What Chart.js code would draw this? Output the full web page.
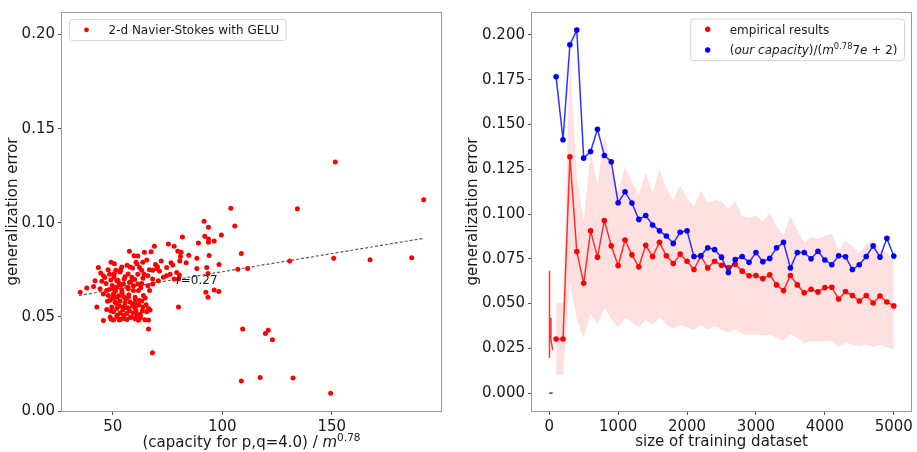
<!DOCTYPE html>
<html>
<head>
<meta charset="utf-8">
<script src="https://cdn.jsdelivr.net/npm/chart.js@4.4.1/dist/chart.umd.min.js"></script>
<style>
  html, body { margin: 0; padding: 0; background: #fff; }
  #wrap  { position: relative; width: 917px; height: 452px; }
  #left  { position: absolute; left: 0;     top: 0; width: 460px; height: 452px; }
  #right { position: absolute; left: 460px; top: 0; width: 457px; height: 452px; }
</style>
</head>
<body>
<div id="wrap">
  <div id="left"><canvas id="scatter"></canvas></div>
  <div id="right"><canvas id="curve"></canvas></div>
</div>
<script>
// ===== Left panel data: (capacity / m^0.78, generalization error) =====
const capX = [
  // dense cluster
  69.0, 75.4, 78.0, 57.6, 64.4, 67.5, 59.7, 61.4, 65.5, 49.2, 50.7, 60.6, 63.7, 72.1, 76.6, 79.7,
  43.4, 54.1, 57.9, 62.2, 63.2, 66.7, 68.2, 70.1, 71.3, 74.6, 76.2, 79.2, 45.7, 48.5, 50.7, 53.3,
  55.6, 58.7, 61.4, 64.3, 66.0, 68.2, 70.8, 73.1, 41.9, 45.0, 46.9, 49.1, 51.8, 53.0, 54.9, 57.6,
  59.4, 61.4, 63.2, 66.0, 68.2, 41.2, 44.2, 47.2, 50.3, 51.8, 54.1, 57.1, 59.4, 61.7, 38.1, 35.1,
  45.7, 48.0, 50.3, 51.8, 54.9, 57.1, 60.2, 64.0, 48.8, 51.0, 53.3, 55.6, 57.9, 60.2, 63.2, 49.5,
  51.8, 54.9, 57.1, 60.2, 63.7, 66.3, 42.7, 47.2, 50.3, 53.3, 56.4, 59.4, 62.5, 65.5, 48.8, 51.8,
  54.9, 57.9, 60.9, 64.7, 66.3, 45.7, 50.3, 53.3, 56.4, 60.2, 61.7, 66.3, 80.0, 80.0,
  50.5, 52.3, 53.8, 55.2, 56.8, 58.3, 49.8, 51.2, 52.7, 54.2, 55.8, 57.3, 58.8, 60.3, 61.8, 50.1,
  51.6, 53.1, 54.6, 56.1, 57.6, 59.1, 60.6, 62.1, 48.4, 47.6, 49.1, 52.0, 55.0, 58.5, 61.3, 63.5,
  64.8, 62.8, 60.0, 57.0, 53.6, 51.4, 46.3, 44.5, 47.9, 56.5, 59.0, 61.0, 63.8, 66.8, 65.2, 62.7,
  53.0, 49.3, 69.5, 70.4, 80.4, 74.5, 77.4, 67.0, 78.0, 68.1,
  // spread-out points
  151.6, 192.0, 134.3, 103.9, 91.7, 105.7, 93.7, 81.8, 99.6, 92.0, 93.7, 96.3, 93.7, 89.1, 81.2,
  108.7, 84.7, 94.0, 80.9, 88.4, 150.9, 167.5, 186.5, 130.8, 80.6, 83.5, 98.5, 92.9, 88.4, 107.1,
  111.6, 93.5, 92.5, 96.3, 98.4, 93.5, 109.3, 121.0, 119.7, 122.9, 108.7, 117.3, 132.3, 149.5,
];
const genErr = [
  0.0875, 0.0887, 0.0875, 0.0849, 0.0844, 0.0846, 0.0825, 0.0823, 0.0802, 0.0791, 0.0783, 0.0791, 0.0791, 0.0797, 0.0788, 0.0849,
  0.0762, 0.0765, 0.0765, 0.0762, 0.0748, 0.0751, 0.0748, 0.0757, 0.0744, 0.0762, 0.0727, 0.0736, 0.0718, 0.0727, 0.0730, 0.0739,
  0.0713, 0.0710, 0.0727, 0.0727, 0.0718, 0.0701, 0.0692, 0.0710, 0.0692, 0.0689, 0.0678, 0.0696, 0.0692, 0.0678, 0.0675, 0.0683,
  0.0666, 0.0675, 0.0678, 0.0666, 0.0675, 0.0661, 0.0649, 0.0640, 0.0649, 0.0657, 0.0643, 0.0649, 0.0640, 0.0640, 0.0654, 0.0631,
  0.0622, 0.0614, 0.0622, 0.0605, 0.0608, 0.0605, 0.0605, 0.0614, 0.0588, 0.0579, 0.0584, 0.0574, 0.0579, 0.0570, 0.0584, 0.0553,
  0.0544, 0.0553, 0.0549, 0.0547, 0.0553, 0.0544, 0.0553, 0.0539, 0.0527, 0.0521, 0.0518, 0.0521, 0.0514, 0.0527, 0.0500, 0.0500,
  0.0492, 0.0497, 0.0500, 0.0485, 0.0483, 0.0481, 0.0484, 0.0488, 0.0486, 0.0490, 0.0482, 0.0436, 0.0553, 0.0701,
  0.0712, 0.0695, 0.0668, 0.0702, 0.0657, 0.0688, 0.0667, 0.0638, 0.0612, 0.0629, 0.0596, 0.0618, 0.0571, 0.0592, 0.0563, 0.0603,
  0.0571, 0.0558, 0.0536, 0.0548, 0.0532, 0.0558, 0.0531, 0.0587, 0.0645, 0.0583, 0.0531, 0.0509, 0.0507, 0.0498, 0.0512, 0.0532,
  0.0601, 0.0655, 0.0699, 0.0728, 0.0751, 0.0748, 0.0709, 0.0733, 0.0751, 0.0775, 0.0760, 0.0783, 0.0705, 0.0640, 0.0565, 0.0497,
  0.0483, 0.0487, 0.0779, 0.0767, 0.0722, 0.0719, 0.0776, 0.0537, 0.0701, 0.0309,
  0.1323, 0.1123, 0.1074, 0.1077, 0.1008, 0.0983, 0.0976, 0.0924, 0.0935, 0.0928, 0.0914, 0.0903, 0.0896, 0.0893, 0.0844,
  0.0837, 0.0828, 0.0826, 0.0821, 0.0811, 0.0811, 0.0804, 0.0814, 0.0797, 0.0797, 0.0788, 0.0778, 0.0762, 0.0757, 0.0753,
  0.0757, 0.0731, 0.0631, 0.0643, 0.0635, 0.0605, 0.0436, 0.0429, 0.0412, 0.0379, 0.0159, 0.0178, 0.0175, 0.0094,
];
const fitX = [34.6, 191.8];
const fitY = [0.0614, 0.0917];
const corrText = 'r=0.27';
const corrAt   = [78.8, 0.0675];

const leftXTicks = [50, 100, 150];
const leftYTicks = [0.00, 0.05, 0.10, 0.15, 0.20];

// ===== Right panel data: error vs size of training dataset =====
const sizes = [
  100, 200, 300, 400, 500, 600, 700, 800, 900, 1000,
  1100, 1200, 1300, 1400, 1500, 1600, 1700, 1800, 1900, 2000,
  2100, 2200, 2300, 2400, 2500, 2600, 2700, 2800, 2900, 3000,
  3100, 3200, 3300, 3400, 3500, 3600, 3700, 3800, 3900, 4000,
  4100, 4200, 4300, 4400, 4500, 4600, 4700, 4800, 4900, 5000,
];
const empirical = [
  0.0302, 0.0302, 0.1320, 0.0790, 0.0613, 0.0906, 0.0759, 0.0964, 0.0823, 0.0712,
  0.0855, 0.0772, 0.0705, 0.0825, 0.0763, 0.0842, 0.0767, 0.0723, 0.0776, 0.0736,
  0.0690, 0.0765, 0.0699, 0.0736, 0.0714, 0.0701, 0.0719, 0.0681, 0.0655, 0.0657,
  0.0639, 0.0661, 0.0604, 0.0573, 0.0657, 0.0604, 0.0560, 0.0580, 0.0565, 0.0589,
  0.0591, 0.0525, 0.0567, 0.0545, 0.0514, 0.0545, 0.0503, 0.0542, 0.0509, 0.0487,
];
const capacity = [
  0.1766, 0.1415, 0.1945, 0.2027, 0.1312, 0.1349, 0.1473, 0.1327, 0.1292, 0.1063,
  0.1124, 0.1061, 0.0970, 0.0992, 0.0939, 0.0906, 0.0877, 0.0836, 0.0898, 0.0906,
  0.0763, 0.0767, 0.0812, 0.0801, 0.0759, 0.0673, 0.0745, 0.0763, 0.0730, 0.0785,
  0.0734, 0.0752, 0.0811, 0.0842, 0.0699, 0.0785, 0.0785, 0.0750, 0.0792, 0.0743,
  0.0717, 0.0767, 0.0761, 0.0690, 0.0717, 0.0763, 0.0822, 0.0759, 0.0864, 0.0765,
];
const bandLow = [
  0.0097, 0.0107, 0.0618, 0.0409, 0.0308, 0.0446, 0.0382, 0.0476, 0.0413, 0.0366,
  0.0421, 0.0399, 0.0366, 0.0409, 0.0377, 0.0426, 0.0382, 0.0359, 0.0382, 0.0366,
  0.0354, 0.0382, 0.0354, 0.0372, 0.0354, 0.0341, 0.0354, 0.0332, 0.0326, 0.0329,
  0.0322, 0.0326, 0.0308, 0.0293, 0.0329, 0.0308, 0.0280, 0.0289, 0.0286, 0.0289,
  0.0289, 0.0258, 0.0280, 0.0271, 0.0262, 0.0271, 0.0258, 0.0267, 0.0256, 0.0244,
];
const bandHigh = [
  0.0505, 0.0505, 0.1870, 0.1210, 0.0960, 0.1350, 0.1160, 0.1440, 0.1270, 0.1110,
  0.1270, 0.1180, 0.1110, 0.1230, 0.1120, 0.1250, 0.1140, 0.1080, 0.1160, 0.1090,
  0.1040, 0.1130, 0.1060, 0.1080, 0.1070, 0.1030, 0.1070, 0.0990, 0.0980, 0.0990,
  0.0960, 0.1010, 0.0930, 0.0880, 0.0990, 0.0910, 0.0840, 0.0870, 0.0860, 0.0880,
  0.0890, 0.0800, 0.0850, 0.0820, 0.0780, 0.0830, 0.0860, 0.0800, 0.0790, 0.0730,
];
// first few tiny sizes, plotted without markers
const earlySizes = [0, 1, 2, 4, 8, 15, 25, 50];
const earlyEmp   = [0.0200, 0.0683, 0.0300, 0.0480, 0.0330, 0.0420, 0.0300, 0.0240];
const earlyCap   = [0, 0, 0, 0, 0, 0, 0, 0];

const rightXTicks = [0, 1000, 2000, 3000, 4000, 5000];
const rightYTicks = [0, 0.025, 0.05, 0.075, 0.1, 0.125, 0.15, 0.175, 0.2];

// ===== Styling =====
const FONT = '"DejaVu Sans", "Liberation Sans", sans-serif';
const TEXT = '#1a1a1a';
const SPINE = '#9a9a9a';
Chart.defaults.font.family = FONT;
Chart.defaults.color = TEXT;

const pts = (xs, ys) => xs.map((x, i) => ({ x, y: ys[i] }));

function axis(min, max, ticks, fmt, fit) {
  return {
    type: 'linear', min, max,
    afterBuildTicks: s => { s.ticks = ticks.map(v => ({ value: v })); },
    afterFit: fit,
    grid: { drawOnChartArea: false, drawTicks: true, tickLength: 4, tickColor: '#555' },
    border: { display: false },
    ticks: { font: { size: 15 }, color: TEXT, padding: 3, callback: fmt },
  };
}

// draws text made of plain / italic / superscript pieces
function drawRich(ctx, parts, x, y, size, align) {
  const fontOf = p => (p.it ? 'italic ' : '') + (p.sup ? size * 0.7 : size) + 'px ' + FONT;
  let total = 0;
  const widths = parts.map(p => { ctx.font = fontOf(p); const w = ctx.measureText(p.t).width; total += w; return w; });
  let cx = align === 'center' ? x - total / 2 : x;
  ctx.textAlign = 'left';
  ctx.textBaseline = 'alphabetic';
  parts.forEach((p, i) => {
    ctx.font = fontOf(p);
    ctx.fillText(p.t, cx, p.sup ? y - size * 0.42 : y);
    cx += widths[i];
  });
  return total;
}

function measureRich(ctx, parts, size) {
  let total = 0;
  parts.forEach(p => {
    ctx.font = (p.it ? 'italic ' : '') + (p.sup ? size * 0.7 : size) + 'px ' + FONT;
    total += ctx.measureText(p.t).width;
  });
  return total;
}

function roundBox(ctx, x, y, w, h, r) {
  ctx.beginPath();
  ctx.moveTo(x + r, y);
  ctx.arcTo(x + w, y, x + w, y + h, r);
  ctx.arcTo(x + w, y + h, x, y + h, r);
  ctx.arcTo(x, y + h, x, y, r);
  ctx.arcTo(x, y, x + w, y, r);
  ctx.closePath();
  ctx.fillStyle = 'rgba(255,255,255,0.85)';
  ctx.fill();
  ctx.strokeStyle = '#d6d6d6';
  ctx.lineWidth = 1;
  ctx.stroke();
}

// legend entries: [{color, parts}]
function drawLegend(ctx, entries, left, top, size) {
  const textW = Math.max(...entries.map(e => measureRich(ctx, e.parts, size)));
  const w = 40 + textW + 6;
  const h = 21 + (entries.length - 1) * 20.7;
  if (left === null) return w;
  roundBox(ctx, left + 0.5, top + 0.5, w, h, 3);
  entries.forEach((e, i) => {
    const cy = top + 10.8 + i * 20.7;
    ctx.fillStyle = e.color;
    ctx.beginPath();
    ctx.arc(left + 17.5, cy, e.r, 0, Math.PI * 2);
    ctx.fill();
    ctx.fillStyle = TEXT;
    drawRich(ctx, e.parts, left + 39.5, cy + 4.3, size, 'left');
  });
  return w;
}

const framePlugin = {
  id: 'frame',
  afterDraw(chart) {
    const { ctx, chartArea: a } = chart;
    ctx.save();
    ctx.strokeStyle = SPINE;
    ctx.lineWidth = 1;
    ctx.strokeRect(Math.round(a.left) - 0.5, Math.round(a.top) + 0.5,
                   Math.round(a.right - a.left) + 1, Math.round(a.bottom - a.top));
    ctx.restore();
  },
};

// ===== Left chart =====
const scatterExtras = {
  id: 'scatterExtras',
  afterDraw(chart) {
    const { ctx, chartArea: a, scales } = chart;
    ctx.save();
    // correlation label
    ctx.fillStyle = TEXT;
    ctx.font = '12px ' + FONT;
    ctx.textAlign = 'left';
    ctx.textBaseline = 'alphabetic';
    ctx.fillText(corrText, scales.x.getPixelForValue(corrAt[0]), scales.y.getPixelForValue(corrAt[1]));
    // x axis title with superscript
    drawRich(ctx, [{ t: '(capacity for p,q=4.0) / ' }, { t: 'm', it: true }, { t: '0.78', sup: true }],
             (a.left + a.right) / 2, chart.height - 5, 15, 'center');
    // legend
    drawLegend(ctx, [{ color: 'red', r: 2.4, parts: [{ t: '2-d Navier-Stokes with GELU' }] }],
               a.left + 7, a.top + 7, 12);
    ctx.restore();
  },
};

new Chart(document.getElementById('scatter'), {
  type: 'scatter',
  data: {
    datasets: [
      {
        data: pts(capX, genErr),
        pointRadius: 2.5,
        pointBackgroundColor: 'red',
        pointBorderWidth: 0,
      },
      {
        data: pts(fitX, fitY),
        showLine: true,
        borderColor: 'rgba(0,0,0,0.65)',
        borderWidth: 1.2,
        borderDash: [3, 2],
        pointRadius: 0,
      },
    ],
  },
  options: {
    animation: false,
    responsive: true,
    maintainAspectRatio: false,
    devicePixelRatio: 1,
    events: [],
    layout: { padding: { top: 5, right: 19, bottom: 0, left: 0 } },
    plugins: { legend: { display: false }, tooltip: { enabled: false } },
    scales: {
      x: axis(26.8, 199.9, leftXTicks, v => String(v), s => { s.height = 41; }),
      y: Object.assign(axis(0, 0.212, leftYTicks, v => v.toFixed(2), s => { s.width = 62; }), {
        title: { display: true, text: 'generalization error', font: { size: 15 }, color: TEXT, padding: { top: 4, bottom: 0 } },
      }),
    },
  },
  plugins: [framePlugin, scatterExtras],
});

// ===== Right chart =====
const capLabel = [
  { t: '(' }, { t: 'our capacity', it: true }, { t: ')/(' }, { t: 'm', it: true },
  { t: '0.78', sup: true }, { t: '7' }, { t: 'e', it: true }, { t: ' + ' }, { t: '2)' },
];

const curveLegend = {
  id: 'curveLegend',
  afterDraw(chart) {
    const { ctx, chartArea: a } = chart;
    const entries = [
      { color: 'red',  r: 2.7, parts: [{ t: 'empirical results' }] },
      { color: 'blue', r: 2.7, parts: capLabel },
    ];
    ctx.save();
    const w = drawLegend(ctx, entries, null, 0, 12);
    drawLegend(ctx, entries, a.right - 7 - w, a.top + 6.5, 12);
    ctx.restore();
  },
};

const lineSet = (xs, ys, line, dot, radius, order) => ({
  data: pts(xs, ys),
  borderColor: line,
  borderWidth: 1.5,
  pointRadius: radius,
  pointBackgroundColor: dot,
  pointBorderWidth: 0,
  fill: false,
  order,
});

new Chart(document.getElementById('curve'), {
  type: 'line',
  data: {
    datasets: [
      lineSet(sizes, capacity, 'rgba(0,0,255,0.8)', 'blue', 2.8, 0),
      lineSet(sizes, empirical, 'rgba(255,0,0,0.8)', 'red', 2.8, 1),
      lineSet(earlySizes, earlyCap, 'rgba(0,0,255,0.8)', 'blue', 0, 2),
      lineSet(earlySizes, earlyEmp, 'rgba(255,0,0,0.8)', 'red', 0, 2),
      {
        data: pts(sizes, bandHigh),
        borderWidth: 0,
        pointRadius: 0,
        fill: '+1',
        backgroundColor: 'rgba(255,0,0,0.12)',
        order: 5,
      },
      {
        data: pts(sizes, bandLow),
        borderWidth: 0,
        pointRadius: 0,
        fill: false,
        order: 6,
      },
    ],
  },
  options: {
    animation: false,
    responsive: true,
    maintainAspectRatio: false,
    devicePixelRatio: 1,
    events: [],
    layout: { padding: { top: 5, right: 6, bottom: 0, left: 0 } },
    plugins: { legend: { display: false }, tooltip: { enabled: false } },
    scales: {
      x: Object.assign(axis(-250, 5250, rightXTicks, v => String(v), s => { s.height = 41; }), {
        title: { display: true, text: 'size of training dataset', font: { size: 15 }, color: TEXT, padding: { top: 0, bottom: 1 } },
      }),
      y: Object.assign(axis(-0.0100, 0.2128, rightYTicks, v => v.toFixed(3), s => { s.width = 72; }), {
        title: { display: true, text: 'generalization error', font: { size: 15 }, color: TEXT, padding: { top: 4, bottom: 0 } },
      }),
    },
  },
  plugins: [framePlugin, curveLegend],
});
</script>
</body>
</html>
